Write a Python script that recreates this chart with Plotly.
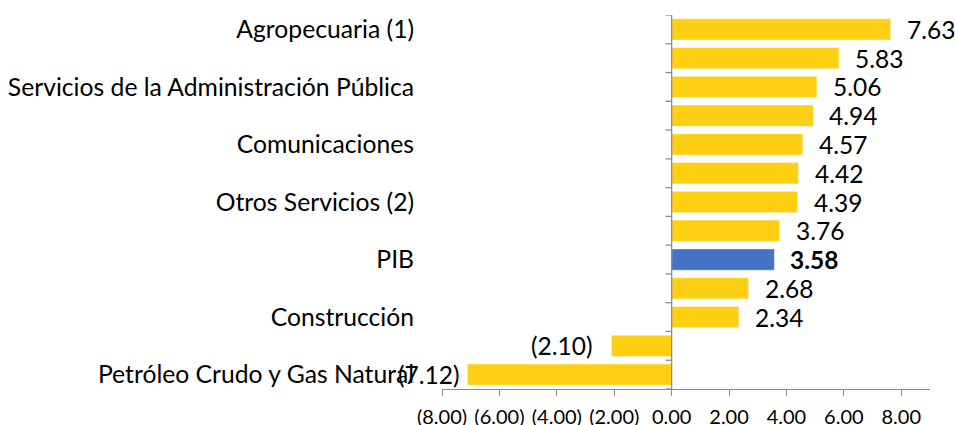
import plotly.graph_objects as go

# Data (top to bottom). Only every other category label is shown in the chart.
labels = ["Agropecuaria (1)", "", "Servicios de la Administración Pública", "",
          "Comunicaciones", "", "Otros Servicios (2)", "", "PIB", "",
          "Construcción", "", "Petróleo Crudo y Gas Natural"]
values = [7.63, 5.83, 5.06, 4.94, 4.57, 4.42, 4.39, 3.76, 3.58, 2.68, 2.34, -2.10, -7.12]
highlight = "PIB"
x_ticks = [-8, -6, -4, -2, 0, 2, 4, 6, 8]

YELLOW = "#FFCF14"
BLUE = "#4472C4"
AXIS = "#8C8C8C"
FONT = "Lato"

def fmt(v):
    return f"({abs(v):.2f})" if v < 0 else f"{v:.2f}"

n = len(values)
pos = list(range(n))
colors = [BLUE if lab == highlight else YELLOW for lab in labels]
xmin, xmax = -8, 9

fig = go.Figure()
fig.add_trace(go.Bar(
    x=values, y=pos, orientation="h",
    marker=dict(color=colors, line=dict(color="rgba(255,255,255,0.45)", width=1)),
    hoverinfo="x+y", showlegend=False,
))

annotations = []
for i, v in enumerate(values):
    bold = labels[i] == highlight
    txt = f"<b>{fmt(v)}</b>" if bold else fmt(v)
    if v >= 0:
        annotations.append(dict(x=v, y=i, xref="x", yref="y", text=txt, showarrow=False,
                                xanchor="left", yanchor="middle", xshift=14,
                                font=dict(family=FONT, size=24.5, color="#000")))
    else:
        annotations.append(dict(x=v, y=i, xref="x", yref="y", text=txt, showarrow=False,
                                xanchor="right", yanchor="middle",
                                xshift=-5 if v == min(values) else -16,
                                font=dict(family=FONT, size=24.5, color="#000")))

# vertical category axis drawn at x = 0 (line + boundary tick marks)
shapes = [dict(type="line", xref="x", yref="paper", x0=0, x1=0, y0=0, y1=1,
               line=dict(color=AXIS, width=1.3), layer="above")]
for b in [i - 0.5 for i in range(n + 1)]:
    shapes.append(dict(type="line", xref="x", yref="y", xsizemode="pixel", xanchor=0,
                       x0=-6, x1=0, y0=b, y1=b, line=dict(color=AXIS, width=1.3), layer="above"))

shown = [i for i, lab in enumerate(labels) if lab]

fig.update_layout(
    template="none",
    width=955, height=425,
    margin=dict(l=442, r=25, t=15, b=36, autoexpand=False),
    plot_bgcolor="white", paper_bgcolor="white",
    bargap=0.26,
    font=dict(family=FONT, color="#000"),
    xaxis=dict(range=[xmin, xmax], tickvals=x_ticks, ticktext=[fmt(t) for t in x_ticks],
               automargin=False,
               showgrid=False, zeroline=False, showline=True, linecolor=AXIS, linewidth=1.3,
               ticks="outside", ticklen=6, tickcolor=AXIS, tickwidth=1.3,
               ticklabelstandoff=4,
               tickfont=dict(family=FONT, size=20, color="#000")),
    yaxis=dict(range=[n - 0.5, -0.5], tickvals=shown, ticktext=[labels[i] for i in shown],
               automargin=False,
               showgrid=False, zeroline=False, showline=False,
               ticks="outside", ticklen=22, tickcolor="rgba(0,0,0,0)",
               tickfont=dict(family=FONT, size=24.7, color="#000")),
    shapes=shapes,
    annotations=annotations,
)

fig.write_html("out.html",
               config={"displayModeBar": False},
               post_script="document.body.style.margin='0';document.body.style.overflow='hidden';")
